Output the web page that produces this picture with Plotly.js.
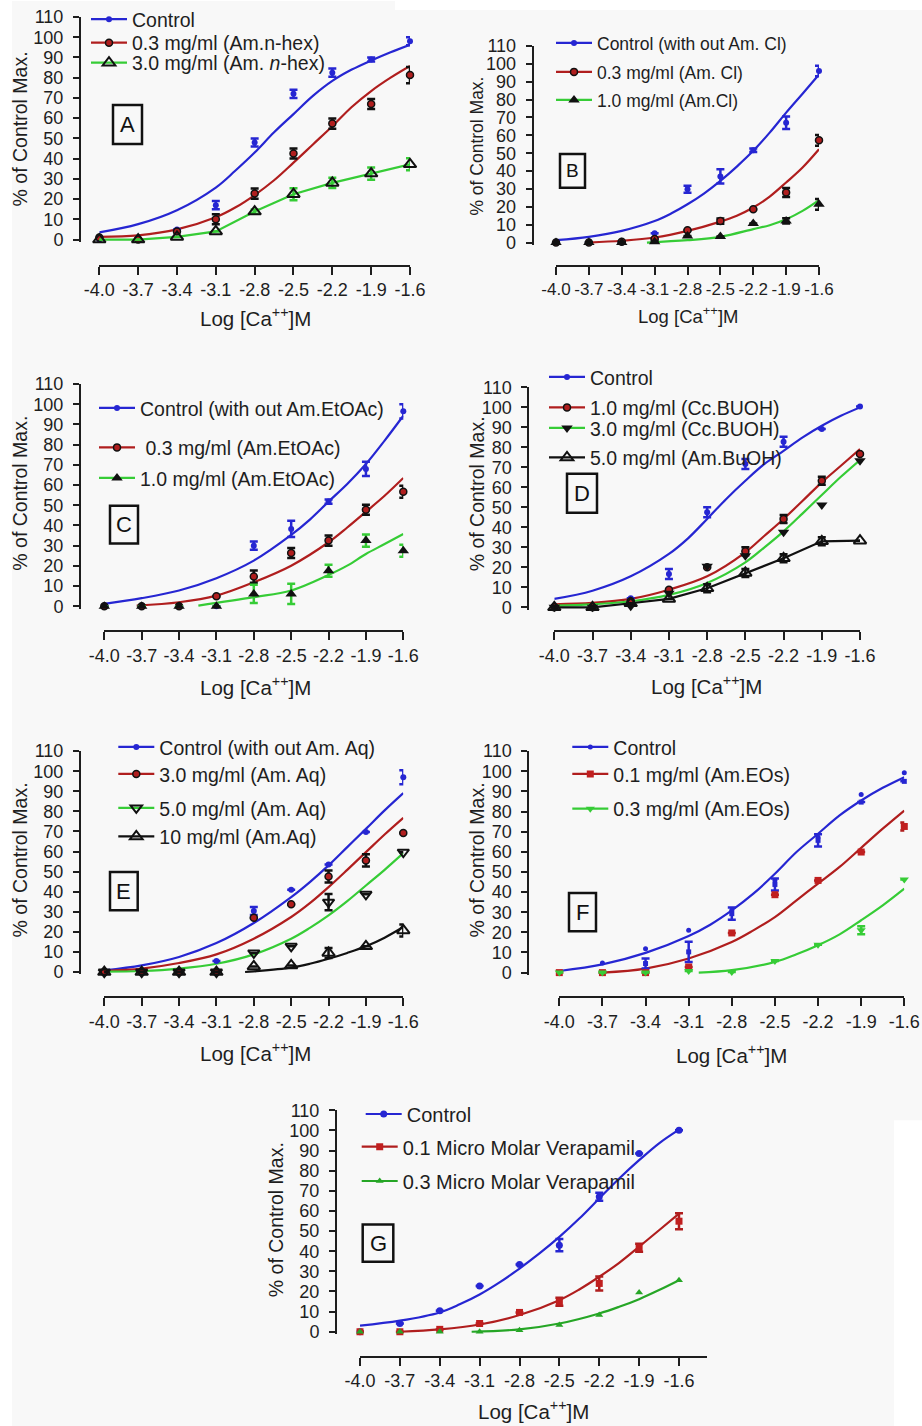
<!DOCTYPE html>
<html><head><meta charset="utf-8">
<script src="https://cdn.plot.ly/plotly-3.0.1.min.js"></script>
<style>html,body{margin:0;padding:0;background:#fff}#chart{width:922px;height:1426px}</style>
</head><body><div id="chart"></div>
<script>
// ---------- shared axes ----------
const logCa = [-4.0,-3.7,-3.4,-3.1,-2.8,-2.5,-2.2,-1.9,-1.6];
const xTickLabels = ['-4.0','-3.7','-3.4','-3.1','-2.8','-2.5','-2.2','-1.9','-1.6'];
const yTicks = [0,10,20,30,40,50,60,70,80,90,100,110];
const xTitle = 'Log [Ca<sup>++</sup>]M';
const yTitle = '% of Control Max.';
const panelLetters = ['A','B','C','D','E','F','G'];

// ---------- Panel A ----------
const A_names = ['Control','0.3 mg/ml (Am.n-hex)','3.0 mg/ml (Am. <i>n</i>-hex)'];
const A_control = [0,0,5,17,48,72,82.5,89,98];
const A_control_err = [null,null,null,2,2,2,2,1,2];
const A_control_fitX = [-4.0,-3.7,-3.4,-3.1,-2.95,-2.8,-2.65,-2.5,-2.35,-2.2,-2.05,-1.9,-1.75,-1.6];
const A_control_fitY = [3.5,7.6,14.5,25.7,34,43,53,62,71,78.4,84,88.5,92.6,96.3];
const A_low = [1,0,4,10,22.7,42.5,57.3,67,81.3];
const A_low_err = [null,null,null,2.5,2.5,2.5,2.5,2.5,4];
const A_low_fitX = [-4.0,-3.7,-3.4,-3.1,-2.95,-2.8,-2.65,-2.5,-2.35,-2.2,-2.05,-1.9,-1.75,-1.6];
const A_low_fitY = [1.3,2.1,5,11,15.8,22,29.3,38,47,56,65.5,73.4,80,85.8];
const A_high = [0,0,1.3,4,13.8,22.4,28,32.6,37.2];
const A_high_err = [null,null,null,null,1,3,2.5,3,3];

// ---------- Panel B ----------
const B_names = ['Control (with out Am. Cl)','0.3 mg/ml (Am. Cl)','1.0 mg/ml (Am.Cl)'];
const B_control = [0,0,0,5.2,29.8,37,51.6,67,96];
const B_control_err = [null,null,null,null,2,4,1,3.5,3];
const B_control_fitX = [-4.0,-3.7,-3.4,-3.1,-2.95,-2.8,-2.65,-2.5,-2.35,-2.2,-2.05,-1.9,-1.75,-1.6];
const B_control_fitY = [1.3,3.2,6.5,12,16.2,21.4,27.4,34.5,42.5,51.3,61.5,72.7,83.3,94];
const B_low = [0,0,0.5,2,6.9,12,18.6,28,57.2];
const B_low_err = [null,null,null,null,null,1.5,null,2.5,3];
const B_low_fitX = [-3.7,-3.4,-3.1,-2.8,-2.5,-2.35,-2.2,-2.05,-1.9,-1.75,-1.6];
const B_low_fitY = [0,1,2.8,6.5,11.7,15,19.6,25.7,33.6,42,52.2];
const B_high = [0,0,0,0.5,3.7,3.4,10.6,12.1,21.4];
const B_high_err = [null,null,null,null,null,null,null,1.5,3];
const B_high_fitX = [-3.17,-2.8,-2.5,-2.2,-2.05,-1.9,-1.75,-1.6];
const B_high_fitY = [0,1.3,3.2,7.5,9.7,13,17.7,23.7];

// ---------- Panel C ----------
const C_names = ['Control (with out Am.EtOAc)',' 0.3 mg/ml (Am.EtOAc)','1.0 mg/ml (Am.EtOAc)'];
const C_control = [0,0,0,0,30,38.3,51.8,68,96.5];
const C_control_err = [null,null,null,null,2,4,1,3.5,3.5];
const C_control_fitX = [-4.0,-3.7,-3.4,-3.1,-2.8,-2.5,-2.35,-2.2,-2.05,-1.9,-1.75,-1.6];
const C_control_fitY = [1.2,4,7.8,13.9,22.6,35.3,42.9,51.8,60.5,70.4,82,94.3];
const C_low = [0,0,0,5,14.7,26.4,32.5,47.8,56.7];
const C_low_err = [null,null,null,null,3,2.5,2.5,2.5,3];
const C_low_fitX = [-3.74,-3.4,-3.1,-2.8,-2.5,-2.2,-2.05,-1.9,-1.75,-1.6];
const C_low_fitY = [0.3,2,5.3,11.9,20.1,31.7,39,46.8,54.7,63.5];
const C_high = [0,0,0,0,6.1,6.1,17.6,32.5,27.5];
const C_high_err = [null,null,null,null,4.5,5,3,3,3];
const C_high_fitX = [-3.245,-2.8,-2.5,-2.2,-2.05,-1.9,-1.75,-1.6];
const C_high_fitY = [0.3,4.5,7.8,15.5,20.1,25.9,30.8,35.8];

// ---------- Panel D ----------
const D_names = ['Control','1.0 mg/ml (Cc.BUOH)','3.0 mg/ml (Cc.BUOH)','5.0 mg/ml (Am.BuOH)'];
const D_control = [0,0,4.5,16.7,47.5,71.7,82.8,89.2,100.5];
const D_control_err = [null,null,null,2.5,2.5,2.5,2.5,null,null];
const D_control_fitX = [-4.0,-3.7,-3.4,-3.1,-2.95,-2.8,-2.65,-2.5,-2.35,-2.2,-2.05,-1.9,-1.75,-1.6];
const D_control_fitY = [4.2,8.3,15.5,26.7,34.5,44.2,54.2,63.3,71.7,78.3,85,90.8,95.8,100];
const D_low = [0,0,3,8.8,20,28,44.2,63.3,76.7];
const D_low_err = [null,null,null,null,null,2,2,2,null];
const D_low_fitX = [-4.0,-3.7,-3.4,-3.1,-2.8,-2.5,-2.35,-2.2,-2.05,-1.9,-1.75,-1.6];
const D_low_fitY = [1.5,2.2,4.2,8.8,15.5,27.5,35.8,44.2,53.3,62.5,70.8,79.2];
const D_mid = [0,0,0.5,7,20.5,25.8,37.5,51.2,73.3];
const D_mid_fitX = [-4.0,-3.7,-3.4,-3.1,-2.8,-2.5,-2.35,-2.2,-2.05,-1.9,-1.75,-1.6];
const D_mid_fitY = [0.8,1.5,3,6.2,12.2,22.5,30,38,47,56.2,65.3,73.7];
const D_high = [0,0,2,4.2,9.5,17.2,24.5,33,33.3];
const D_high_err = [null,null,null,null,2,2,2,2,null];

// ---------- Panel E ----------
const E_names = ['Control (with out Am. Aq)','3.0 mg/ml (Am. Aq)','5.0 mg/ml (Am. Aq)','10 mg/ml (Am.Aq)'];
const E_control = [0,0,0,5.5,30.4,41,53.6,69.7,97];
const E_control_err = [null,null,null,null,2,null,null,null,3.5];
const E_control_fitX = [-4.0,-3.7,-3.4,-3.1,-2.8,-2.5,-2.35,-2.2,-2.05,-1.9,-1.75,-1.6];
const E_control_fitY = [0.8,3.3,7.5,14.4,24.4,37.3,44.8,53.1,62.2,71.3,80.5,89.1];
const E_low = [0,0,0,0,27,33.7,47.6,55.6,69.2];
const E_low_err = [null,null,null,null,null,null,3,3,null];
const E_low_fitX = [-4.0,-3.7,-3.4,-3.1,-2.8,-2.5,-2.35,-2.2,-2.05,-1.9,-1.75,-1.6];
const E_low_fitY = [0.5,1.7,4.5,8.8,16.6,27.4,34.3,42.3,50.9,59.7,68.5,76.8];
const E_mid = [0,0,0,0,9.5,12.8,34.8,38.7,59.7];
const E_mid_err = [null,null,null,null,null,null,4,null,null];
const E_mid_fitX = [-4.0,-3.7,-3.4,-3.1,-2.8,-2.5,-2.35,-2.2,-2.05,-1.9,-1.75,-1.6];
const E_mid_fitY = [0.2,0.5,1.7,4.1,8.8,16.6,22,28.2,35.3,43.1,50.9,59.2];
const E_high = [0,0,0,0,2.8,3.3,9.5,12.8,20.7];
const E_high_err = [null,null,null,null,null,null,2.5,null,3];
const E_high_fitX = [-2.87,-2.8,-2.5,-2.35,-2.2,-2.05,-1.9,-1.75,-1.6];
const E_high_fitY = [0,0.3,2.2,4.1,6.6,9.5,12.8,17.1,22.4];

// ---------- Panel F ----------
const F_names = ['Control','0.1 mg/ml (Am.EOs)','0.3 mg/ml (Am.EOs)'];
const F_control = [0,4.8,11.9,21,31,45.8,67.3,88.5,99.3];
const F_control2_x = [-3.4,-3.1,-2.8,-2.5,-2.2,-1.9,-1.6];
const F_control2 = [4.5,10.3,29.3,43.8,65.7,84.7,95];
const F_control2_err = [2.5,5,3,3,3,null,null];
const F_control_fitX = [-4.0,-3.7,-3.4,-3.1,-2.95,-2.8,-2.65,-2.5,-2.35,-2.2,-2.05,-1.9,-1.75,-1.6];
const F_control_fitY = [0.8,4.1,9.8,18.2,23.8,30.9,39.2,49.1,59.9,69,78.1,85.5,91.8,97.1];
const F_low = [0,0,0,2.8,19.7,38.7,45.8,59.9,72.6];
const F_low_err = [null,null,null,null,null,null,null,null,2];
const F_low_fitX = [-3.7,-3.4,-3.1,-2.8,-2.65,-2.5,-2.35,-2.2,-2.05,-1.9,-1.75,-1.6];
const F_low_fitY = [0,2,7,15.2,21,27.6,35.9,44.2,52.5,62,71.5,80.5];
const F_high = [0,0,0,0.8,0.3,5.8,13.9,21,46.3];
const F_high_err = [null,null,null,null,null,null,null,2,null];
const F_high_fitX = [-3.03,-2.8,-2.5,-2.35,-2.2,-2.05,-1.9,-1.75,-1.6];
const F_high_fitY = [0,1.2,5.3,9.1,13.6,19,26,33.4,41.7];

// ---------- Panel G ----------
const G_names = ['Control','0.1 Micro Molar Verapamil','0.3 Micro Molar Verapamil'];
const G_control = [0,4.1,10.4,22.7,33.4,43,67,88.5,100];
const G_control_err = [null,null,null,null,null,3,2,null,null];
const G_control_fitX = [-4.0,-3.7,-3.4,-3.25,-3.1,-2.95,-2.8,-2.65,-2.5,-2.35,-2.2,-2.05,-1.9,-1.75,-1.6];
const G_control_fitY = [3,5.5,9.6,13.6,18.5,24.5,31.4,38.9,47.1,56.2,66.2,76.1,85.2,93.6,100.4];
const G_low = [0,0,1.2,4.1,9.6,14.9,24,41.7,54.9];
const G_low_err = [null,null,null,null,null,2,3.5,2,4];
const G_low_fitX = [-3.7,-3.4,-3.1,-2.8,-2.5,-2.35,-2.2,-2.05,-1.9,-1.75,-1.6];
const G_low_fitY = [0,1.2,3.6,8.3,15.7,21,27.3,34.2,42.2,50.4,58.7];
const G_high = [0,0,0,0,0.8,3.3,8.3,19.5,25.6];
const G_high_fitX = [-3.16,-2.8,-2.5,-2.2,-2.05,-1.9,-1.75,-1.6];
const G_high_fitY = [0,1.2,4.1,9.1,12.4,16.2,20.7,25.6];

// ---------- styling ----------
const W = 922, H = 1426;
const FONT = 'Liberation Sans, Arial, Helvetica, sans-serif';
const INK = '#1e1e1e';
const BLUE = '#2626d2', RED = '#b01e1e', GREEN = '#36cc36', GREEN2 = '#26a626', BLACK = '#111111';
const P = x => x / W;
const Q = y => 1 - y / H;

const mDot = (c, s) => ({symbol:'circle', size:s||6, color:c});
const mRed = {symbol:'circle', size:7, color:RED, line:{color:BLACK, width:1.5}};
const mTriOpen = {symbol:'triangle-up-open', size:11, color:BLACK, line:{width:2}};
const mTri = {symbol:'triangle-up', size:10, color:BLACK};
const mTriDown = {symbol:'triangle-down', size:10, color:BLACK};
const mTriDownOpen = {symbol:'triangle-down-open', size:10, color:BLACK, line:{width:2}};
const mSqRed = {symbol:'square', size:7, color:'#c01f1f'};

const panels = [
 {geom:{yAxisX:80, y0:238.7, y110:16, xAxisY:265, x0:99.3, x16:410}, box:[113,104,142,143], letterSize:22,
  yT:[20,128.5,19.5], xT:[255,319,20.5], legSize:19.5, tickSize:18,
  series:[
   {name:A_names[0], y:A_control, err:A_control_err, fx:A_control_fitX, fy:A_control_fitY, color:BLUE, ec:BLUE, marker:mDot(BLUE), leg:[132,19]},
   {name:A_names[1], y:A_low, err:A_low_err, fx:A_low_fitX, fy:A_low_fitY, color:RED, ec:BLACK, marker:mRed, leg:[132,43]},
   {name:A_names[2], y:A_high, err:A_high_err, color:GREEN, ec:GREEN, marker:mTriOpen, leg:[132,63]}
  ]},
 {geom:{yAxisX:532.7, y0:241.7, y110:45, xAxisY:265, x0:556, x16:819}, box:[560,153,585,187], letterSize:19,
  yT:[476.7,145,17.5], xT:[688,317,18.5], legSize:17.5, tickSize:17,
  series:[
   {name:B_names[0], y:B_control, err:B_control_err, fx:B_control_fitX, fy:B_control_fitY, color:BLUE, ec:BLUE, marker:mDot(BLUE), leg:[597,43]},
   {name:B_names[1], y:B_low, err:B_low_err, fx:B_low_fitX, fy:B_low_fitY, color:RED, ec:BLACK, marker:mRed, leg:[597,72]},
   {name:B_names[2], y:B_high, err:B_high_err, fx:B_high_fitX, fy:B_high_fitY, color:GREEN, ec:BLACK, marker:mTri, leg:[597,100]}
  ]},
 {geom:{yAxisX:80, y0:605.7, y110:383.3, xAxisY:630.7, x0:104.3, x16:403.3}, box:[110,505,138,543], letterSize:22,
  yT:[20,493,19.5], xT:[255,688,20.5], legSize:19.5, tickSize:18,
  series:[
   {name:C_names[0], y:C_control, err:C_control_err, fx:C_control_fitX, fy:C_control_fitY, color:BLUE, ec:BLUE, marker:mDot(BLUE), leg:[140,408.3]},
   {name:C_names[1], y:C_low, err:C_low_err, fx:C_low_fitX, fy:C_low_fitY, color:RED, ec:BLACK, marker:mRed, leg:[140,447.7]},
   {name:C_names[2], y:C_high, err:C_high_err, fx:C_high_fitX, fy:C_high_fitY, color:GREEN, ec:GREEN, marker:mTri, leg:[140,478.3]}
  ]},
 {geom:{yAxisX:528.3, y0:606.7, y110:386.7, xAxisY:630.7, x0:554.3, x16:860}, box:[567,473,597,512], letterSize:22,
  yT:[476.7,493,19.5], xT:[706.7,687.7,20.5], legSize:19.5, tickSize:18,
  series:[
   {name:D_names[0], y:D_control, err:D_control_err, fx:D_control_fitX, fy:D_control_fitY, color:BLUE, ec:BLUE, marker:mDot(BLUE), leg:[590,377.3]},
   {name:D_names[1], y:D_low, err:D_low_err, fx:D_low_fitX, fy:D_low_fitY, color:RED, ec:BLACK, marker:mRed, leg:[590,407.7]},
   {name:D_names[2], y:D_mid, err:null, fx:D_mid_fitX, fy:D_mid_fitY, color:GREEN, ec:BLACK, marker:mTriDown, leg:[590,428.3]},
   {name:D_names[3], y:D_high, err:D_high_err, color:BLACK, ec:BLACK, marker:mTriOpen, leg:[590,457.7]}
  ]},
 {geom:{yAxisX:80, y0:971.7, y110:750.7, xAxisY:996.7, x0:104.3, x16:403.3}, box:[110,871.7,137.7,910], letterSize:22,
  yT:[20,860,19.5], xT:[255,1055,20.5], legSize:19.5, tickSize:18,
  series:[
   {name:E_names[0], y:E_control, err:E_control_err, fx:E_control_fitX, fy:E_control_fitY, color:BLUE, ec:BLUE, marker:mDot(BLUE), leg:[159.3,747.3]},
   {name:E_names[1], y:E_low, err:E_low_err, fx:E_low_fitX, fy:E_low_fitY, color:RED, ec:BLACK, marker:mRed, leg:[159.3,774.3]},
   {name:E_names[2], y:E_mid, err:E_mid_err, fx:E_mid_fitX, fy:E_mid_fitY, color:GREEN, ec:BLACK, marker:mTriDownOpen, leg:[159.3,808.3]},
   {name:E_names[3], y:E_high, err:E_high_err, fx:E_high_fitX, fy:E_high_fitY, color:BLACK, ec:BLACK, marker:mTriOpen, leg:[159.3,836.7]}
  ]},
 {geom:{yAxisX:528.3, y0:972.3, y110:750.7, xAxisY:996.7, x0:559.3, x16:904.3}, box:[569,892.7,596,931], letterSize:22,
  yT:[477,860,19.5], xT:[731.7,1056.7,20.5], legSize:19.5, tickSize:18,
  series:[
   {name:F_names[0], y:F_control, err:null, fx:F_control_fitX, fy:F_control_fitY, color:BLUE, ec:BLUE, marker:mDot(BLUE,5), leg:[613.3,747.3]},
   {name:F_names[0], x:F_control2_x, y:F_control2, err:F_control2_err, color:BLUE, ec:BLUE, marker:{symbol:'square', size:5, color:BLUE}},
   {name:F_names[1], y:F_low, err:F_low_err, fx:F_low_fitX, fy:F_low_fitY, color:RED, ec:RED, marker:mSqRed, leg:[613.3,774.3]},
   {name:F_names[2], y:F_high, err:F_high_err, fx:F_high_fitX, fy:F_high_fitY, color:GREEN, ec:GREEN, marker:{symbol:'triangle-down', size:8, color:GREEN}, leg:[613.3,809]}
  ]},
 {geom:{yAxisX:336, y0:1331.7, y110:1110, xAxisY:1356.7, x0:360, x16:679, x1:706.7}, box:[362.7,1224.3,393.3,1261.7], letterSize:22,
  yT:[276,1220,19.5], xT:[533.3,1413.3,20.5], legSize:20, tickSize:18,
  series:[
   {name:G_names[0], y:G_control, err:G_control_err, fx:G_control_fitX, fy:G_control_fitY, color:BLUE, ec:BLUE, marker:mDot(BLUE,7), leg:[406.7,1114]},
   {name:G_names[1], y:G_low, err:G_low_err, fx:G_low_fitX, fy:G_low_fitY, color:RED, ec:RED, marker:mSqRed, leg:[402.7,1146.7]},
   {name:G_names[2], y:G_high, err:null, fx:G_high_fitX, fy:G_high_fitY, color:GREEN2, ec:GREEN2, marker:{symbol:'triangle-up', size:7, color:GREEN2}, leg:[402.7,1181]}
  ]}
];

const traces = [], annotations = [], shapes = [];
const layout = {
  width: W, height: H, margin:{l:0,r:0,t:0,b:0},
  paper_bgcolor:'#ffffff', plot_bgcolor:'rgba(0,0,0,0)',
  font:{family:FONT, color:INK}, showlegend:true, hovermode:false,
  annotations, shapes
};

// light grey scanned-figure background
shapes.push({type:'rect', xref:'paper', yref:'paper', x0:P(12), x1:1, y0:0, y1:1, fillcolor:'#f8f8f8', line:{width:0}, layer:'below'});
shapes.push({type:'rect', xref:'paper', yref:'paper', x0:P(395), x1:1, y0:Q(9), y1:1, fillcolor:'#ffffff', line:{width:0}, layer:'below'});
shapes.push({type:'rect', xref:'paper', yref:'paper', x0:P(894), x1:1, y0:0, y1:Q(1120), fillcolor:'#ffffff', line:{width:0}, layer:'below'});

const ITEMW = 36;
let legN = 0;
panels.forEach((p, i) => {
  const xa = i ? 'x' + (i+1) : 'x', ya = i ? 'y' + (i+1) : 'y';
  const xk = i ? 'xaxis' + (i+1) : 'xaxis', yk = i ? 'yaxis' + (i+1) : 'yaxis';
  const g = p.geom;
  const ppu = (g.y0 - g.y110) / 110;
  const yBottom = g.y0 + 1.2 * ppu;
  const x1 = g.x1 || g.x16;
  const xEnd = -1.6 + (x1 - g.x16) / (g.x16 - g.x0) * 2.4;
  layout[xk] = {domain:[P(g.x0), P(x1)], range:[-4.0, xEnd], anchor:'free', position:Q(g.xAxisY),
    tickmode:'array', tickvals:logCa, ticktext:xTickLabels, tickangle:0, ticks:'outside', ticklen:8, tickwidth:2, tickcolor:INK,
    showline:true, linewidth:2, linecolor:INK, showgrid:false, zeroline:false, fixedrange:true,
    tickfont:{family:FONT, size:p.tickSize, color:INK}, ticklabelstandoff:0};
  layout[yk] = {domain:[Q(yBottom), Q(g.y110)], range:[-1.2, 110], anchor:'free', position:P(g.yAxisX),
    tickmode:'array', tickvals:yTicks, ticks:'outside', ticklen:6, tickwidth:2, tickcolor:INK,
    showline:true, linewidth:2, linecolor:INK, showgrid:false, zeroline:false, fixedrange:true,
    tickfont:{family:FONT, size:18, color:INK}, ticklabelstandoff:6};

  // fitted curves
  p.series.forEach(s => {
    if (!s.fx) return;
    traces.push({x:s.fx, y:s.fy, mode:'lines', line:{color:s.color, width:2.2, shape:'spline', smoothing:1},
      xaxis:xa, yaxis:ya, showlegend:false, hoverinfo:'skip'});
  });
  // data points with SEM
  p.series.forEach(s => {
    const t = {x:s.x || logCa, y:s.y, mode: s.fx || s.x ? 'markers' : 'lines+markers',
      line:{color:s.color, width:2.2}, marker:s.marker, cliponaxis:false,
      xaxis:xa, yaxis:ya, showlegend:false, hoverinfo:'skip', name:s.name};
    if (s.err) t.error_y = {type:'data', array:s.err, visible:true, color:s.ec, thickness:2.5, width:4};
    traces.push(t);
  });
  // legend entries (one legend per row)
  p.series.forEach(s => {
    if (!s.leg) return;
    legN++;
    const lk = legN === 1 ? 'legend' : 'legend' + legN;
    traces.push({x:[null], y:[null], name:s.name, mode:'lines+markers', line:{color:s.color, width:2.2},
      marker:s.marker, xaxis:xa, yaxis:ya, legend:lk, showlegend:true, hoverinfo:'skip'});
    layout[lk] = {x:P(s.leg[0] - ITEMW - 10), y:Q(s.leg[1]), xanchor:'left', yanchor:'middle',
      bgcolor:'rgba(0,0,0,0)', borderwidth:0, itemwidth:ITEMW,
      font:{family:FONT, size:p.legSize, color:INK}};
  });

  // letter box
  const b = p.box;
  shapes.push({type:'rect', xref:'paper', yref:'paper', x0:P(b[0]), x1:P(b[2]), y0:Q(b[3]), y1:Q(b[1]),
    line:{color:'#111', width:2.5}, fillcolor:'rgba(0,0,0,0)', layer:'above'});
  annotations.push({xref:'paper', yref:'paper', x:P((b[0]+b[2])/2), y:Q((b[1]+b[3])/2), xanchor:'center', yanchor:'middle',
    text:panelLetters[i], showarrow:false, font:{family:FONT, size:p.letterSize, color:'#111'}});
  // axis titles
  annotations.push({xref:'paper', yref:'paper', x:P(p.yT[0]), y:Q(p.yT[1]), xanchor:'center', yanchor:'middle',
    text:yTitle, textangle:-90, showarrow:false, font:{family:FONT, size:p.yT[2], color:INK}});
  annotations.push({xref:'paper', yref:'paper', x:P(p.xT[0]), y:Q(p.xT[1] - 3), xanchor:'center', yanchor:'middle',
    text:xTitle, showarrow:false, font:{family:FONT, size:p.xT[2], color:INK}});
});

Plotly.newPlot('chart', traces, layout, {staticPlot:true, displayModeBar:false});
</script>
</body></html>
